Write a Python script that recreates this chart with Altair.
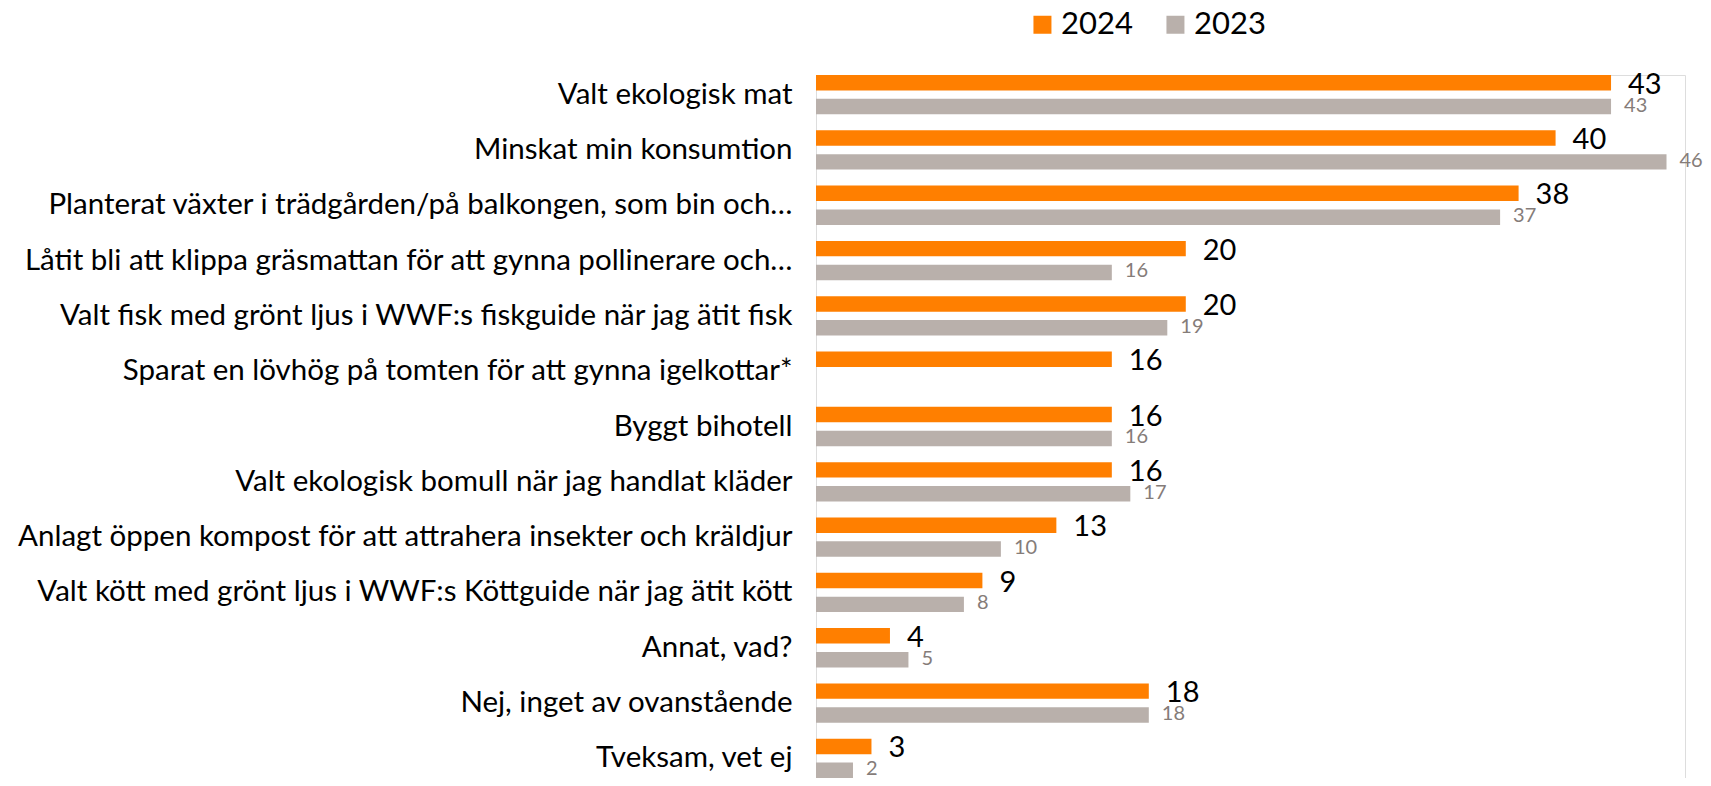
import altair as alt
import pandas as pd

categories = [
    "Valt ekologisk mat",
    "Minskat min konsumtion",
    "Planterat växter i trädgården/på balkongen, som bin och…",
    "Låtit bli att klippa gräsmattan för att gynna pollinerare och…",
    "Valt fisk med grönt ljus i WWF:s fiskguide när jag ätit fisk",
    "Sparat en lövhög på tomten för att gynna igelkottar*",
    "Byggt bihotell",
    "Valt ekologisk bomull när jag handlat kläder",
    "Anlagt öppen kompost för att attrahera insekter och kräldjur",
    "Valt kött med grönt ljus i WWF:s Köttguide när jag ätit kött",
    "Annat, vad?",
    "Nej, inget av ovanstående",
    "Tveksam, vet ej",
]
values_2024 = [43, 40, 38, 20, 20, 16, 16, 16, 13, 9, 4, 18, 3]
values_2023 = [43, 46, 37, 16, 19, None, 16, 17, 10, 8, 5, 18, 2]
series = ["2024", "2023"]

rows = []
for c, a, b in zip(categories, values_2024, values_2023):
    rows.append({"cat": c, "series": "2024", "value": a})
    if b is not None:
        rows.append({"cat": c, "series": "2023", "value": b})
df = pd.DataFrame(rows)

FONT = "Lato"
ORANGE = "#FF7F00"
GRAY = "#B9B0AB"

y_enc = alt.Y("cat:N", sort=categories,
              scale=alt.Scale(paddingInner=0.29, paddingOuter=0),
              axis=alt.Axis(title=None, domain=False, ticks=False, labelPadding=24,
                            labelLimit=1200, labelFontSize=29.5, labelFont=FONT,
                            labelColor="#000000"))
yoff = alt.YOffset("series:N", sort=series,
                   scale=alt.Scale(domain=series, paddingInner=0.354, paddingOuter=0))
x_enc = alt.X("value:Q", scale=alt.Scale(domain=[0, 47], nice=False), axis=None)

base = alt.Chart(df)

bars = base.mark_bar().encode(
    x=x_enc, y=y_enc, yOffset=yoff,
    color=alt.Color("series:N", sort=series,
                    scale=alt.Scale(domain=series, range=[ORANGE, GRAY]),
                    legend=alt.Legend(title=None, orient="none", direction="horizontal",
                                      legendX=206, legendY=-66,
                                      symbolType="M-0.45,-1H1.55V1H-0.45Z",
                                      symbolSize=324, symbolStrokeWidth=0,
                                      labelFontSize=31, labelFont=FONT, labelColor="#000000",
                                      labelOffset=8, columnPadding=22, padding=0)),
)

t24 = base.transform_filter(alt.datum.series == "2024").mark_text(
    align="left", baseline="middle", dx=17, dy=2, fontSize=29, font=FONT, color="#000000"
).encode(x=x_enc, y=y_enc, yOffset=yoff, text="value:Q")

t23 = base.transform_filter(alt.datum.series == "2023").mark_text(
    align="left", baseline="middle", dx=13, dy=-1, fontSize=20, font=FONT, color="#857C79"
).encode(x=x_enc, y=y_enc, yOffset=yoff, text="value:Q")

chart = alt.layer(bars, t24, t23).properties(
    width=869, height=703,
    autosize=alt.AutoSizeParams(type="none"),
    padding={"left": 808, "top": 67, "right": 18, "bottom": 0},
).configure_view(stroke=None).configure(background="white")

chart.save("out.html", embed_options={"renderer": "svg", "actions": False})
